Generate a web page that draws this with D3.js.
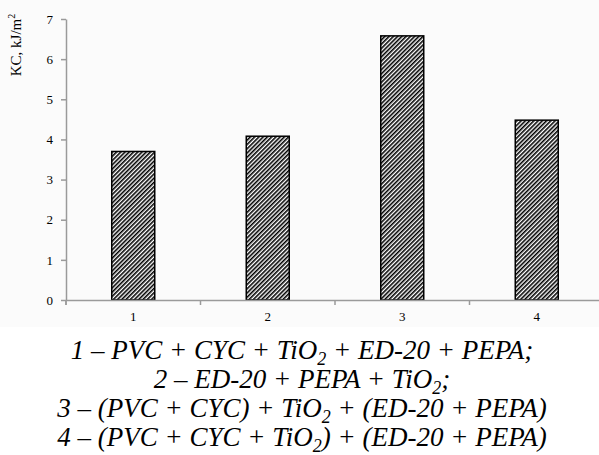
<!DOCTYPE html>
<html>
<head>
<meta charset="utf-8">
<script src="https://cdn.jsdelivr.net/npm/d3@7"></script>
<style>
  body { margin: 0; background: #fff; }
  svg { display: block; }
  svg text { font-family: "Liberation Serif", "Times New Roman", Times, "DejaVu Serif", serif; }
  .axis path, .axis line { stroke: #9a9a9a; stroke-width: 1.5; }
  .axis text { font-family: "Liberation Serif", "Times New Roman", Times, "DejaVu Serif", serif; font-size: 13px; fill: #000; }
  .caption text { font-style: italic; font-size: 27px; }
</style>
</head>
<body>
<svg id="chart" width="599" height="455"></svg>
<script>
const categories = ["1", "2", "3", "4"];
const values = [3.7, 4.08, 6.58, 4.48];
const yTicks = [0, 1, 2, 3, 4, 5, 6, 7];
const legendLines = [
  [["1 – PVC + CYC + TiO", ""], ["2", "sub"], [" + ED-20 + PEPA;", ""]],
  [["2 – ED-20 + PEPA + TiO", ""], ["2", "sub"], [";", ""]],
  [["3 – (PVC + CYC) + TiO", ""], ["2", "sub"], [" + (ED-20 + PEPA)", ""]],
  [["4 – (PVC + CYC + TiO", ""], ["2", "sub"], [") + (ED-20 + PEPA)", ""]]
];

const SIZE = { left: 66, top: 19, width: 538, height: 281 };
const svg = d3.select("#chart");

// the pasted chart image has a faint grey tint
svg.append("rect")
  .attr("width", 599).attr("height", 327)
  .attr("fill", "#fbfbfb");

const defs = svg.append("defs");
defs.append("pattern")
  .attr("id", "hatch")
  .attr("patternUnits", "userSpaceOnUse")
  .attr("width", 3)
  .attr("height", 3)
  .attr("patternTransform", "rotate(45)")
  .call(p => {
    p.append("rect").attr("width", 3).attr("height", 3).attr("fill", "#fff");
    p.append("line")
      .attr("x1", 0.8).attr("y1", 0).attr("x2", 0.8).attr("y2", 3)
      .attr("stroke", "#000").attr("stroke-width", 1.6);
  });

const g = svg.append("g").attr("transform", `translate(${SIZE.left},${SIZE.top})`);

const x = d3.scaleBand().domain(categories).range([0, SIZE.width]);
const y = d3.scaleLinear().domain([0, 7]).range([SIZE.height, 0]);

const barW = 43;

g.selectAll(".bar")
  .data(values)
  .join("rect")
  .attr("class", "bar")
  .attr("x", (d, i) => x(categories[i]) + x.bandwidth() / 2 - barW / 2)
  .attr("y", d => y(d))
  .attr("width", barW)
  .attr("height", d => y(0) - y(d))
  .attr("fill", "url(#hatch)")
  .attr("stroke", "#000")
  .attr("stroke-width", 1.5);

// y axis
const yAxis = g.append("g").attr("class", "axis")
  .call(d3.axisLeft(y).tickValues(yTicks).tickFormat(d3.format("d"))
    .tickSize(5).tickPadding(8).tickSizeOuter(0))
  .attr("font-family", null);
// axis line runs a little below zero, like the original
yAxis.append("line")
  .attr("x1", 0).attr("x2", 0)
  .attr("y1", y(0)).attr("y2", y(0) + 5);

// x axis, ticks sit on the category boundaries
const xAxis = g.append("g").attr("class", "axis")
  .attr("transform", `translate(0,${SIZE.height})`)
  .call(d3.axisBottom(x).tickSize(0).tickPadding(12))
  .attr("font-family", null);
xAxis.selectAll(".boundary")
  .data(categories)
  .join("line")
  .attr("class", "boundary")
  .attr("x1", d => x(d)).attr("x2", d => x(d))
  .attr("y1", 0).attr("y2", 5);

// y label
svg.append("text")
  .attr("transform", "translate(21,45) rotate(-90)")
  .attr("text-anchor", "middle")
  .style("font-size", "15px")
  .call(t => {
    t.append("tspan").text("KC, kJ/m");
    t.append("tspan").attr("dy", -6).style("font-size", "10px").text("2");
  });

// caption
const caption = svg.append("g").attr("class", "caption");

legendLines.forEach((parts, i) => {
  const t = caption.append("text")
    .attr("x", 302)
    .attr("y", 359 + i * 29)
    .attr("text-anchor", "middle");
  let shifted = 0;
  parts.forEach(([s, kind]) => {
    const ts = t.append("tspan").text(s);
    if (kind === "sub") {
      ts.attr("dy", 6).style("font-size", "18px");
      shifted = 6;
    } else if (shifted) {
      ts.attr("dy", -shifted);
      shifted = 0;
    }
  });
});
</script>
</body>
</html>
